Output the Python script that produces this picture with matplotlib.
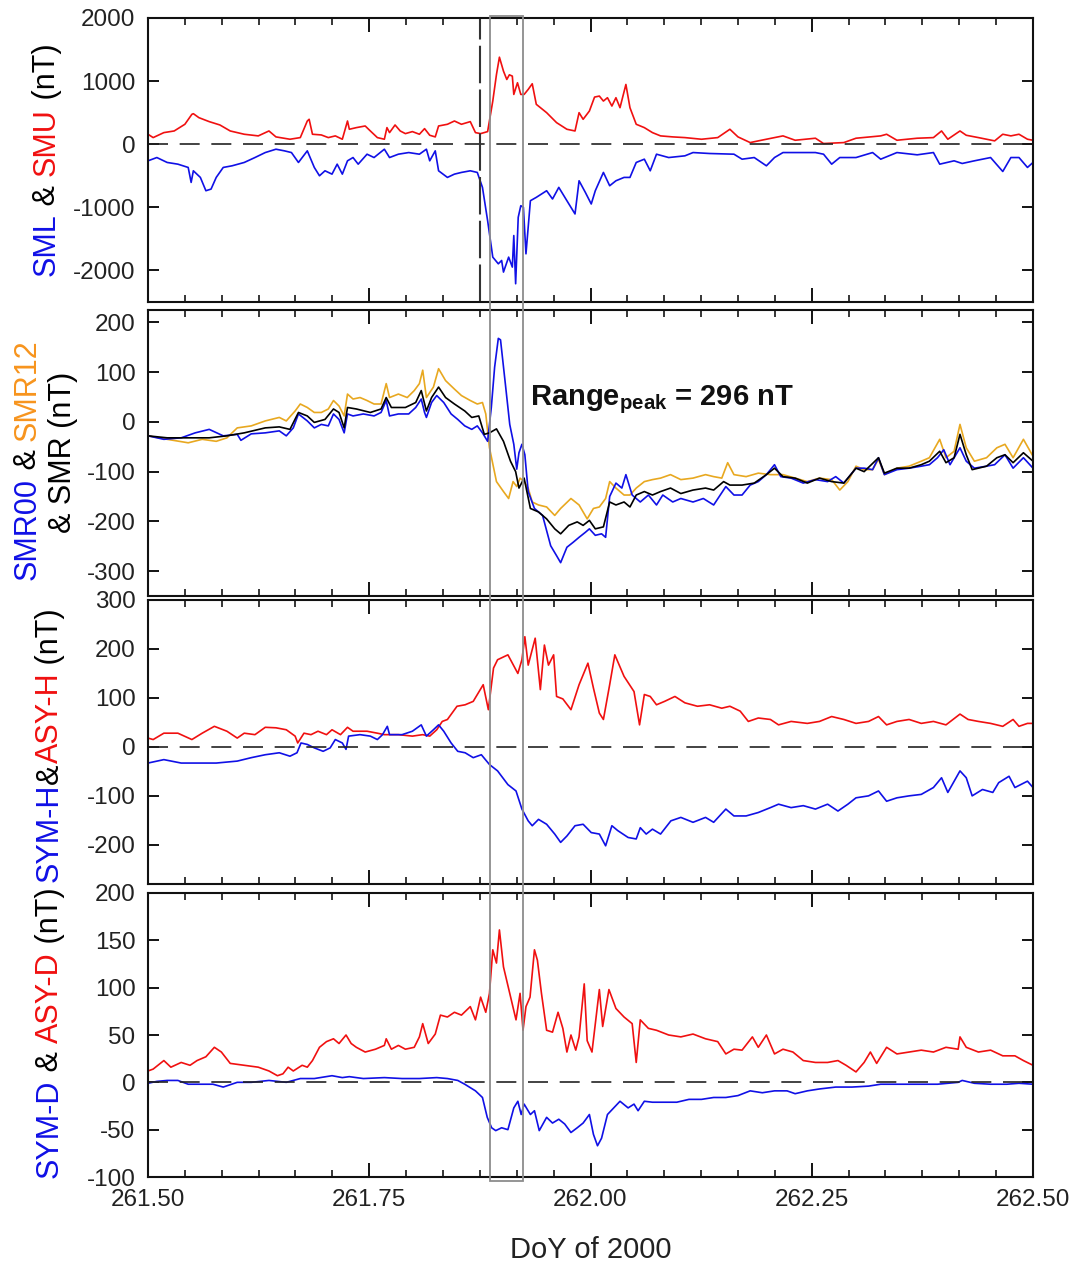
import numpy as np
import matplotlib
matplotlib.use("Agg")
import matplotlib.pyplot as plt
from matplotlib.patches import Rectangle
from matplotlib.transforms import blended_transform_factory
from matplotlib.ticker import MultipleLocator, FormatStrFormatter

plt.rcParams['font.family'] = ['Liberation Sans', 'DejaVu Sans']
plt.rcParams['mathtext.fontset'] = 'custom'
plt.rcParams['mathtext.rm'] = 'Liberation Sans'
plt.rcParams['mathtext.bf'] = 'Liberation Sans:bold'
plt.rcParams['mathtext.it'] = 'Liberation Sans:italic'
plt.rcParams['axes.unicode_minus'] = False

# ---------------- data (hours after 12 UT of DoY 261, values in nT) ----------------
DOY0 = 261.5

smu_h = [0.00, 0.14, 0.43, 0.71, 1.00, 1.19, 1.23, 1.38, 1.66, 1.95, 2.23, 2.61, 2.99, 3.28, 3.47, 3.85, 4.13, 4.32, 4.37, 4.46, 4.70, 4.89, 5.08, 5.27, 5.41, 5.46, 5.65, 5.89, 6.03, 6.22, 6.41, 6.48, 6.55, 6.70, 6.84, 6.98, 7.17, 7.36, 7.50, 7.64, 7.79, 7.88, 8.12, 8.31, 8.50, 8.74, 8.88, 9.02, 9.21, 9.35, 9.45, 9.53, 9.64, 9.73, 9.80, 9.88, 9.92, 10.02, 10.11, 10.20, 10.31, 10.42, 10.53, 10.81, 11.08, 11.36, 11.58, 11.69, 11.80, 11.97, 12.11, 12.24, 12.35, 12.46, 12.58, 12.69, 12.80, 12.96, 13.07, 13.24, 13.46, 13.68, 13.90, 14.23, 14.56, 15.01, 15.45, 15.78, 16.00, 16.33, 16.55, 16.99, 17.22, 17.55, 18.10, 18.32, 18.87, 19.20, 19.87, 20.03, 20.31, 20.86, 21.30, 21.52, 21.69, 22.02, 22.19, 22.52, 22.96, 23.18, 23.40, 23.62, 23.85, 24.00]
smu_v = [158, 105, 184, 210, 316, 474, 484, 421, 358, 305, 210, 158, 132, 210, 116, 79, 105, 368, 395, 158, 147, 105, 132, 79, 368, 237, 263, 289, 210, 105, 79, 263, 184, 305, 210, 168, 200, 158, 247, 142, 116, 289, 316, 368, 316, 358, 184, 168, 200, 684, 1105, 1379, 1158, 1026, 1100, 1079, 789, 974, 789, 789, 868, 958, 632, 500, 342, 237, 210, 500, 395, 526, 747, 763, 684, 737, 605, 737, 579, 947, 579, 316, 263, 184, 132, 116, 105, 79, 105, 237, 116, 26, 53, 105, 132, 63, 95, 11, 26, 95, 132, 158, 63, 95, 105, 210, 79, 210, 142, 105, 53, 158, 132, 158, 79, 63]

sml_h = [0.00, 0.24, 0.52, 0.81, 1.09, 1.17, 1.23, 1.42, 1.57, 1.71, 1.85, 2.04, 2.28, 2.61, 2.90, 3.18, 3.47, 3.70, 3.89, 4.08, 4.32, 4.51, 4.65, 4.80, 4.99, 5.13, 5.27, 5.41, 5.56, 5.70, 5.94, 6.13, 6.41, 6.55, 6.79, 7.07, 7.36, 7.55, 7.64, 7.79, 7.88, 8.12, 8.31, 8.50, 8.74, 8.93, 9.07, 9.21, 9.35, 9.50, 9.59, 9.64, 9.78, 9.88, 9.92, 9.97, 10.04, 10.11, 10.18, 10.25, 10.37, 10.53, 10.81, 10.97, 11.14, 11.36, 11.58, 11.69, 11.86, 12.02, 12.13, 12.35, 12.52, 12.69, 12.91, 13.07, 13.24, 13.46, 13.62, 13.79, 14.12, 14.56, 14.78, 15.23, 15.89, 16.11, 16.44, 16.77, 16.99, 17.22, 17.66, 18.10, 18.32, 18.54, 18.76, 19.20, 19.65, 19.87, 20.31, 20.86, 21.30, 21.47, 21.86, 22.08, 22.41, 22.85, 23.18, 23.40, 23.62, 23.85, 24.00]
sml_v = [-263, -211, -289, -316, -368, -605, -421, -526, -737, -711, -526, -368, -342, -289, -211, -132, -79, -105, -132, -289, -105, -368, -500, -421, -474, -316, -474, -263, -211, -316, -158, -211, -79, -211, -158, -132, -158, -79, -263, -105, -421, -526, -474, -447, -421, -447, -684, -1211, -1789, -1895, -1842, -2026, -1789, -1947, -1447, -2211, -1158, -974, -1000, -1737, -895, -842, -737, -868, -684, -895, -1105, -579, -763, -947, -737, -447, -658, -579, -526, -526, -289, -237, -421, -158, -211, -184, -132, -147, -158, -237, -211, -342, -211, -132, -132, -132, -158, -316, -211, -211, -132, -237, -132, -168, -132, -316, -263, -305, -263, -211, -432, -211, -211, -368, -289]

smr00_h = [0, 0.43, 0.90, 1.28, 1.66, 2.04, 2.42, 2.52, 2.80, 3.18, 3.56, 3.75, 3.94, 4.08, 4.32, 4.51, 4.70, 4.89, 5.03, 5.18, 5.32, 5.41, 5.56, 5.84, 6.13, 6.32, 6.46, 6.55, 6.79, 7.07, 7.26, 7.41, 7.50, 7.55, 7.69, 7.83, 8.02, 8.22, 8.40, 8.59, 8.78, 8.93, 9.07, 9.21, 9.31, 9.40, 9.50, 9.56, 9.69, 9.81, 9.92, 10.00, 10.06, 10.14, 10.22, 10.31, 10.48, 10.70, 10.92, 11.08, 11.19, 11.36, 11.53, 11.69, 11.86, 11.97, 12.13, 12.30, 12.41, 12.52, 12.69, 12.85, 12.96, 13.13, 13.35, 13.57, 13.79, 13.96, 14.23, 14.45, 14.78, 15.06, 15.34, 15.67, 15.89, 16.11, 16.33, 16.55, 16.77, 16.99, 17.16, 17.44, 17.77, 18.10, 18.43, 18.65, 18.87, 19.20, 19.42, 19.65, 19.81, 19.97, 20.31, 20.64, 20.97, 21.19, 21.41, 21.58, 21.75, 22.02, 22.19, 22.41, 22.74, 22.96, 23.24, 23.46, 23.74, 24.00]
smr00_v = [-28, -35, -32, -22, -15, -28, -25, -37, -24, -22, -18, -28, -12, 16, 2, -12, -5, -8, 16, 5, -22, 16, 12, 16, 12, 19, 43, 12, 16, 16, 29, 46, 19, 9, 39, 53, 39, 16, 5, -8, -15, -8, -22, -39, 29, 110, 168, 165, 77, -5, -45, -95, -62, -45, -66, -140, -174, -188, -249, -269, -283, -252, -242, -232, -222, -215, -228, -225, -232, -150, -123, -133, -106, -147, -161, -147, -167, -147, -161, -154, -161, -154, -167, -130, -147, -147, -127, -120, -106, -86, -110, -113, -123, -116, -120, -110, -123, -93, -93, -96, -72, -106, -96, -93, -89, -86, -72, -56, -86, -52, -79, -93, -89, -86, -66, -93, -72, -93]

smr12_h = [0, 0.52, 1.09, 1.47, 1.85, 2.14, 2.42, 2.80, 3.18, 3.56, 3.75, 3.99, 4.13, 4.32, 4.51, 4.70, 4.89, 5.03, 5.18, 5.32, 5.41, 5.56, 5.75, 5.94, 6.13, 6.32, 6.46, 6.55, 6.79, 7.03, 7.22, 7.36, 7.45, 7.55, 7.74, 7.88, 8.07, 8.31, 8.50, 8.74, 8.93, 9.07, 9.16, 9.26, 9.45, 9.64, 9.78, 9.90, 10.00, 10.09, 10.20, 10.31, 10.42, 10.59, 10.81, 11.03, 11.19, 11.47, 11.69, 11.91, 12.08, 12.24, 12.41, 12.52, 12.69, 12.91, 13.07, 13.24, 13.46, 13.68, 13.90, 14.17, 14.45, 14.78, 15.12, 15.34, 15.56, 15.72, 15.89, 16.22, 16.55, 16.88, 17.22, 17.55, 17.88, 18.21, 18.54, 18.76, 18.98, 19.20, 19.42, 19.65, 19.81, 19.97, 20.31, 20.64, 20.97, 21.19, 21.47, 21.64, 21.86, 22.02, 22.19, 22.41, 22.74, 23.02, 23.24, 23.46, 23.74, 24.00]
smr12_v = [-28, -35, -42, -35, -39, -32, -12, -8, 2, 9, 2, 22, 36, 29, 19, 19, 26, 43, 32, 12, 56, 46, 49, 43, 36, 36, 77, 49, 56, 49, 63, 77, 104, 49, 70, 107, 83, 66, 53, 43, 36, 39, 16, -52, -120, -140, -154, -120, -130, -113, -120, -133, -161, -167, -171, -188, -174, -154, -167, -195, -174, -171, -154, -120, -133, -147, -147, -133, -120, -116, -113, -106, -116, -113, -106, -110, -113, -82, -106, -110, -103, -106, -106, -113, -120, -113, -116, -137, -120, -89, -96, -96, -75, -106, -93, -89, -79, -72, -35, -72, -59, -5, -52, -79, -72, -52, -45, -72, -35, -69]

smr_h = [0, 0.52, 1.09, 1.66, 2.14, 2.61, 3.18, 3.56, 3.85, 4.08, 4.32, 4.51, 4.80, 5.03, 5.18, 5.32, 5.41, 5.65, 6.03, 6.32, 6.46, 6.60, 6.98, 7.26, 7.41, 7.55, 7.69, 7.88, 8.07, 8.31, 8.59, 8.78, 8.97, 9.12, 9.26, 9.45, 9.64, 9.83, 9.97, 10.06, 10.20, 10.37, 10.59, 10.81, 11.03, 11.19, 11.41, 11.64, 11.80, 11.97, 12.13, 12.35, 12.52, 12.69, 12.91, 13.07, 13.24, 13.46, 13.68, 13.90, 14.17, 14.45, 14.78, 15.12, 15.34, 15.61, 15.78, 16.11, 16.44, 16.77, 16.99, 17.22, 17.55, 17.88, 18.21, 18.54, 18.87, 19.20, 19.42, 19.81, 19.97, 20.31, 20.64, 20.97, 21.19, 21.47, 21.64, 21.86, 22.02, 22.19, 22.35, 22.74, 23.02, 23.24, 23.46, 23.74, 24.00]
smr_v = [-28, -32, -32, -32, -28, -22, -12, -10, -15, 19, 12, -1, 5, 26, 19, -12, 29, 26, 19, 26, 49, 29, 29, 39, 63, 22, 49, 70, 49, 36, 22, 9, 12, -25, -22, -14, -39, -79, -100, -133, -113, -174, -181, -195, -215, -225, -208, -201, -208, -198, -215, -211, -161, -167, -161, -171, -147, -140, -147, -140, -133, -144, -137, -133, -137, -120, -127, -127, -123, -106, -93, -110, -113, -123, -113, -120, -123, -93, -100, -72, -103, -93, -93, -86, -79, -59, -82, -72, -25, -66, -96, -89, -72, -66, -82, -62, -79]

asyh_h = [0, 0.14, 0.43, 0.81, 1.19, 1.47, 1.80, 2.14, 2.42, 2.61, 2.90, 3.18, 3.47, 3.75, 3.99, 4.06, 4.23, 4.42, 4.61, 4.84, 4.99, 5.22, 5.41, 5.56, 5.94, 6.22, 6.41, 6.79, 7.17, 7.45, 7.64, 7.83, 7.98, 8.12, 8.38, 8.60, 8.82, 9.09, 9.23, 9.37, 9.48, 9.76, 10.03, 10.14, 10.22, 10.31, 10.50, 10.64, 10.75, 10.86, 11.00, 11.08, 11.25, 11.47, 11.69, 11.93, 12.08, 12.24, 12.35, 12.52, 12.66, 12.91, 13.18, 13.33, 13.46, 13.62, 13.79, 14.01, 14.29, 14.56, 14.90, 15.23, 15.56, 15.78, 16.06, 16.28, 16.55, 16.88, 17.10, 17.44, 17.88, 18.21, 18.54, 18.87, 19.20, 19.54, 19.81, 20.03, 20.31, 20.64, 20.97, 21.30, 21.64, 22.02, 22.24, 22.52, 22.85, 23.18, 23.46, 23.62, 23.85, 24.00]
asyh_v = [18, 15, 28, 28, 15, 28, 42, 32, 18, 28, 25, 40, 39, 35, 22, 8, 28, 25, 32, 25, 35, 25, 40, 32, 32, 28, 25, 25, 22, 25, 22, 35, 52, 56, 83, 86, 93, 127, 76, 161, 178, 188, 150, 178, 225, 167, 222, 117, 208, 167, 188, 103, 98, 76, 127, 171, 120, 69, 56, 127, 188, 144, 113, 45, 107, 103, 86, 93, 103, 90, 83, 86, 79, 83, 73, 52, 59, 56, 45, 52, 48, 52, 62, 56, 48, 52, 62, 45, 52, 56, 48, 52, 45, 67, 56, 52, 48, 42, 56, 42, 48, 48]

symh_h = [0, 0.43, 0.90, 1.38, 1.85, 2.42, 2.80, 3.18, 3.56, 3.85, 4.04, 4.15, 4.32, 4.51, 4.75, 4.94, 5.08, 5.27, 5.37, 5.44, 5.75, 6.03, 6.22, 6.36, 6.49, 6.55, 6.89, 7.17, 7.41, 7.55, 7.74, 7.88, 8.02, 8.22, 8.40, 8.60, 8.82, 9.04, 9.26, 9.48, 9.76, 9.98, 10.14, 10.31, 10.42, 10.59, 10.81, 11.03, 11.19, 11.36, 11.58, 11.80, 12.02, 12.24, 12.41, 12.58, 12.74, 13.02, 13.24, 13.35, 13.51, 13.68, 13.90, 14.18, 14.45, 14.78, 15.12, 15.34, 15.67, 15.89, 16.22, 16.55, 16.88, 17.10, 17.44, 17.77, 18.10, 18.43, 18.71, 18.98, 19.20, 19.54, 19.81, 20.03, 20.31, 20.64, 20.97, 21.30, 21.52, 21.69, 22.02, 22.19, 22.35, 22.63, 22.91, 23.07, 23.35, 23.51, 23.85, 24.00]
symh_v = [-33, -26, -33, -33, -33, -29, -22, -16, -12, -19, -12, 8, 5, -2, -9, -2, 15, 8, -5, 22, 25, 22, 15, 25, 42, 25, 25, 32, 45, 22, 35, 45, 32, 8, -9, -12, -22, -16, -36, -49, -77, -90, -127, -151, -161, -148, -158, -178, -195, -182, -161, -158, -175, -178, -202, -161, -171, -185, -188, -165, -178, -168, -178, -151, -144, -154, -144, -154, -127, -141, -141, -134, -124, -117, -124, -120, -127, -117, -131, -117, -104, -100, -90, -111, -104, -100, -97, -83, -63, -93, -49, -63, -100, -87, -93, -73, -60, -83, -70, -83]

asyd_h = [0, 0.14, 0.43, 0.62, 0.90, 1.14, 1.33, 1.57, 1.80, 1.99, 2.23, 2.61, 2.99, 3.28, 3.51, 3.66, 3.80, 3.94, 4.18, 4.32, 4.46, 4.65, 4.84, 5.03, 5.18, 5.37, 5.51, 5.65, 5.89, 6.17, 6.41, 6.46, 6.60, 6.79, 6.98, 7.22, 7.36, 7.45, 7.60, 7.79, 7.93, 8.12, 8.31, 8.50, 8.74, 8.88, 9.02, 9.16, 9.26, 9.35, 9.45, 9.53, 9.64, 9.81, 9.98, 10.09, 10.17, 10.25, 10.36, 10.48, 10.56, 10.67, 10.81, 10.97, 11.12, 11.25, 11.36, 11.47, 11.60, 11.69, 11.83, 11.91, 12.04, 12.24, 12.33, 12.50, 12.69, 12.91, 13.13, 13.24, 13.35, 13.57, 13.79, 14.12, 14.45, 14.78, 15.12, 15.45, 15.67, 15.89, 16.11, 16.39, 16.55, 16.77, 16.99, 17.22, 17.49, 17.77, 18.10, 18.43, 18.71, 18.93, 19.20, 19.42, 19.59, 19.76, 20.03, 20.31, 20.64, 20.97, 21.30, 21.64, 21.97, 22.02, 22.19, 22.52, 22.85, 23.18, 23.51, 23.74, 24.00]
asyd_v = [12, 14, 23, 16, 21, 18, 23, 27, 37, 32, 20, 18, 16, 12, 7, 9, 16, 12, 18, 16, 23, 37, 43, 46, 41, 50, 41, 37, 32, 35, 39, 46, 35, 39, 35, 37, 48, 62, 41, 51, 71, 69, 74, 71, 80, 66, 90, 74, 94, 140, 126, 161, 122, 94, 66, 94, 55, 80, 90, 140, 129, 94, 55, 53, 74, 57, 32, 50, 34, 48, 104, 44, 32, 98, 59, 98, 78, 69, 62, 21, 66, 57, 55, 50, 48, 51, 46, 43, 30, 35, 34, 48, 37, 50, 30, 35, 32, 23, 21, 21, 23, 18, 11, 21, 32, 20, 37, 30, 32, 34, 32, 37, 35, 48, 37, 32, 34, 28, 28, 23, 18]

symd_h = [0, 0.24, 0.52, 0.81, 1.09, 1.47, 1.76, 2.04, 2.42, 2.80, 3.28, 3.75, 4.13, 4.51, 4.99, 5.27, 5.46, 5.84, 6.41, 6.89, 7.36, 7.83, 8.12, 8.40, 8.59, 8.88, 9.07, 9.20, 9.32, 9.43, 9.59, 9.76, 9.92, 10.03, 10.12, 10.20, 10.37, 10.48, 10.61, 10.81, 10.97, 11.14, 11.30, 11.47, 11.64, 11.80, 11.97, 12.08, 12.19, 12.30, 12.46, 12.63, 12.80, 13.02, 13.18, 13.29, 13.46, 13.68, 14.01, 14.34, 14.67, 15.01, 15.34, 15.67, 16.00, 16.33, 16.66, 16.99, 17.33, 17.55, 17.88, 18.21, 18.65, 19.09, 19.54, 19.87, 20.31, 20.86, 21.41, 21.97, 22.08, 22.41, 22.85, 23.29, 23.62, 24.00]
symd_v = [-1, 1, 2, 2, -2, -2, -2, -5, 0, 0, 2, 0, 4, 4, 7, 5, 6, 4, 5, 4, 4, 5, 4, 2, -2, -9, -16, -37, -48, -51, -48, -50, -27, -20, -34, -23, -34, -30, -51, -37, -43, -39, -44, -53, -48, -43, -34, -55, -67, -59, -34, -27, -20, -27, -23, -30, -20, -21, -21, -21, -18, -18, -16, -16, -14, -9, -11, -9, -9, -12, -9, -7, -5, -5, -4, -2, -2, -2, -2, 0, 2, -1, -2, -2, -1, -2]

onset_doy = 261.875
box_doy = [261.8866, 261.9242]
range_text = r'Range$_{\mathbf{peak}}$ = 296 nT'
xticks = [261.50, 261.75, 262.00, 262.25, 262.50]


def doy(h):
    return DOY0 + np.asarray(h) / 24.0


BLUE = '#1010E6'
RED = '#F01010'
ORANGE_LINE = '#E8A820'
ORANGE_TXT = '#F7941D'
LW = 1.2
TICK_FS = 17.5

fig = plt.figure(figsize=(10.88, 12.7), dpi=100)
W, H = 1088.0, 1270.0
left, right = 148, 1033
panels_px = [(18, 302), (310, 596), (600, 884), (893, 1177)]
axes = []
for top, bot in panels_px:
    ax = fig.add_axes([left / W, 1 - bot / H, (right - left) / W, (bot - top) / H])
    axes.append(ax)
ax1, ax2, ax3, ax4 = axes

for ax in axes:
    ax.set_xlim(261.5, 262.5)
    ax.xaxis.set_major_locator(MultipleLocator(0.25))
    ax.xaxis.set_minor_locator(MultipleLocator(1 / 24))
    ax.tick_params(axis='x', which='major', direction='in', length=10, width=1.3,
                   top=True, bottom=True, labelsize=TICK_FS, labelcolor='#222222')
    ax.tick_params(axis='x', which='minor', direction='in', length=5, width=1.1,
                   top=True, bottom=True)
    ax.tick_params(axis='y', which='major', direction='in', length=8, width=1.3,
                   left=True, right=True, labelsize=TICK_FS, labelcolor='#222222', pad=9)
    for sp in ax.spines.values():
        sp.set_linewidth(1.5)
        sp.set_color('#111111')
    if ax is not ax4:
        ax.tick_params(axis='x', labelbottom=False)

# Panel 1
ax1.plot(doy(smu_h), smu_v, color=RED, lw=LW)
ax1.plot(doy(sml_h), sml_v, color=BLUE, lw=LW)
ax1.axhline(0, color='#222222', lw=1.2, dashes=(12, 7))
ax1.axvline(onset_doy, color='#333333', lw=1.5, dashes=(18, 3))
ax1.set_ylim(-2500, 2000)
ax1.set_yticks([-2000, -1000, 0, 1000, 2000])

# Panel 2
ax2.plot(doy(smr12_h), smr12_v, color=ORANGE_LINE, lw=LW)
ax2.plot(doy(smr00_h), smr00_v, color=BLUE, lw=LW)
ax2.plot(doy(smr_h), smr_v, color='black', lw=LW)
ax2.set_ylim(-350, 225)
ax2.set_yticks([-300, -200, -100, 0, 100, 200])
ax2.text(doy(10.36), 33, range_text, fontsize=21, fontweight='bold',
         ha='left', va='baseline', color='#111111')

# Panel 3
ax3.plot(doy(asyh_h), asyh_v, color=RED, lw=LW)
ax3.plot(doy(symh_h), symh_v, color=BLUE, lw=LW)
ax3.axhline(0, color='#222222', lw=1.2, dashes=(12, 7))
ax3.set_ylim(-280, 300)
ax3.set_yticks([-200, -100, 0, 100, 200, 300])

# Panel 4
ax4.plot(doy(asyd_h), asyd_v, color=RED, lw=LW)
ax4.plot(doy(symd_h), symd_v, color=BLUE, lw=LW)
ax4.axhline(0, color='#222222', lw=1.2, dashes=(12, 7))
ax4.set_ylim(-100, 200)
ax4.set_yticks([-100, -50, 0, 50, 100, 150, 200])
ax4.set_xticks(xticks)
ax4.xaxis.set_major_formatter(FormatStrFormatter('%.2f'))
ax4.tick_params(axis='x', which='major', pad=9)
fig.text((left + right) / 2 / W, 1 - 1250 / H, 'DoY of 2000', fontsize=21,
         ha='center', va='center', color='#222222')

# Gray box spanning all panels
trans = blended_transform_factory(ax1.transData, fig.transFigure)
y_bot = 1 - 1181 / H
y_top = 1 - 16 / H
rect = Rectangle((box_doy[0], y_bot), box_doy[1] - box_doy[0], y_top - y_bot,
                 transform=trans, fill=False, edgecolor='#8c8c8c', lw=1.3,
                 clip_on=False, zorder=10)
fig.add_artist(rect)


# Multi-coloured rotated y labels
def color_label(x_px, yc_px, pieces, fs=22):
    first = fig.text(x_px / W, 0.5, pieces[0][0], color=pieces[0][1], rotation=90,
                     fontsize=fs, ha='center', va='bottom')
    arts = [first]
    prev = first
    for s, c in pieces[1:]:
        prev = ax1.annotate(s, xy=(0, 1), xycoords=prev, va='bottom', ha='left',
                            rotation=90, color=c, fontsize=fs, annotation_clip=False)
        arts.append(prev)
    r = fig.canvas.get_renderer()
    b0 = arts[0].get_window_extent(r)
    b1 = arts[-1].get_window_extent(r)
    total = b1.y1 - b0.y0
    y_start = (H - yc_px) - total / 2.0
    first.set_position((x_px / W, y_start / H))
    return arts


color_label(47, 160, [('SML', BLUE), (' & ', 'black'), ('SMU', RED), (' (nT)', 'black')])
color_label(28, 460, [('SMR00', BLUE), (' & ', 'black'), ('SMR12', ORANGE_TXT)])
color_label(63, 452, [('& SMR (nT)', 'black')])
color_label(50, 745, [('SYM-H', BLUE), ('&', 'black'), ('ASY-H', RED), (' (nT)', 'black')])
color_label(50, 1033, [('SYM-D', BLUE), (' & ', 'black'), ('ASY-D', RED), (' (nT)', 'black')])

fig.savefig('out.png', dpi=100)
